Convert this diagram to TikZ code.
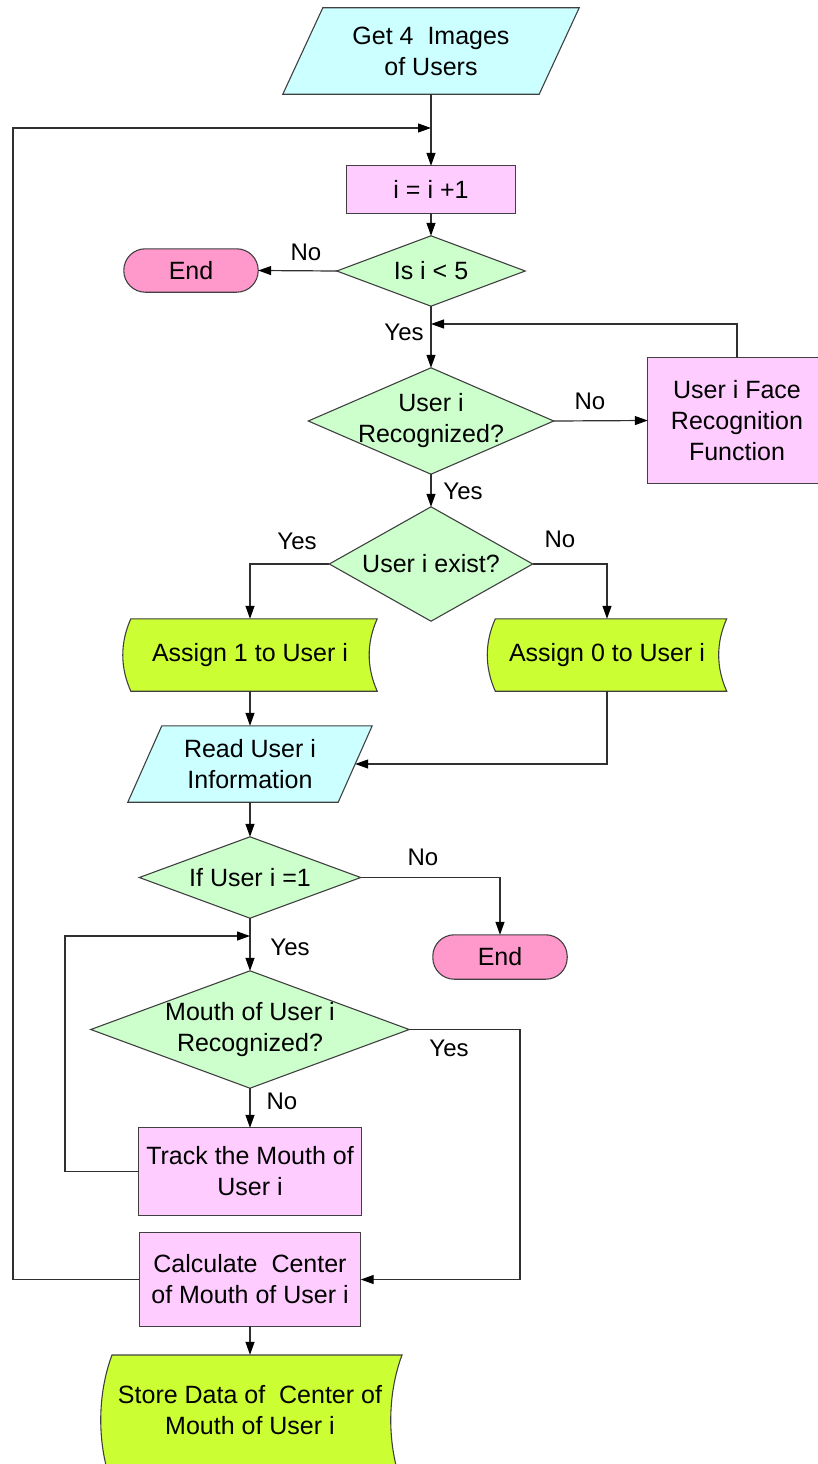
\documentclass[tikz,border=0pt]{standalone}
\usepackage{fontspec}
\setmainfont{Liberation Sans}
\usetikzlibrary{arrows.meta,backgrounds,calc}

\definecolor{cyanfill}{HTML}{CCFFFF}
\definecolor{pinkfill}{HTML}{FFCCFF}
\definecolor{greenfill}{HTML}{CCFFCC}
\definecolor{endfill}{HTML}{FF99CC}
\definecolor{limefill}{HTML}{CCFF33}
\definecolor{edge}{HTML}{404040}
\definecolor{wire}{HTML}{303030}

\tikzset{
  txt/.style={font=\fontsize{25}{31}\selectfont, align=center, inner sep=0pt, text=black},
  area/.style 2 args={txt, minimum width=#1, minimum height=#2},
  outline/.style={draw=edge, line width=1.1pt, line join=miter},
  conn/.style={draw=wire, line width=1.2pt, -{Triangle[length=13pt,width=9pt,color=black]}},
  wireonly/.style={draw=wire, line width=1.2pt},
  lbl/.style={font=\fontsize{24}{28}\selectfont, inner sep=0pt, text=black},
}

\begin{document}
\begin{tikzpicture}[x=1pt,y=-1pt]
\useasboundingbox (0,0) rectangle (817,1464);

% ---- nodes (text and anchor frames) ----
\node[area={256}{86}]  (get)   at (431,51)     {Get 4~ Images\\of Users};
\node[area={168}{47}]  (inc)   at (431,189.5)  {i = i +1};
\node[area={188}{70}]  (isi)   at (431,271)    {Is i < 5};
\node[area={134}{43}]  (end1)  at (191,270.5)  {End};
\node[area={245}{106}] (rec)   at (431,421)    {User i\\Recognized?};
\node[area={178}{125}] (face)  at (737,420.5)  {User i Face\\Recognition\\Function};
\node[area={203}{114}] (exist) at (431,564)    {User i exist?};
\node[area={254}{72}]  (as1)   at (250,655)    {Assign 1 to User i};
\node[area={239}{72}]  (as0)   at (607,655)    {Assign 0 to User i};
\node[area={210}{76}]  (read)  at (250,764)    {Read User i\\Information};
\node[area={221}{81}]  (ifu)   at (250,877.5)  {If User i =1};
\node[area={134}{44}]  (end2)  at (500,957)    {End};
\node[area={318}{117}] (mouth) at (250,1029.5) {Mouth of User i\\Recognized?};
\node[area={222}{87}]  (track) at (250,1171.5) {Track the Mouth of\\User i};
\node[area={221}{93}]  (calc)  at (250,1279.5) {Calculate~ Center\\of Mouth of User i};
\node[area={290}{110}] (store) at (250,1410)   {Store Data of~ Center of\\Mouth of User i};

% ---- shape outlines behind the text ----
\begin{scope}[on background layer]
  % input / output parallelograms
  \draw[outline, fill=cyanfill]
    ($(get.north west)+(20,0)$) -- ($(get.north east)+(20,0)$) --
    ($(get.south east)+(-20,0)$) -- ($(get.south west)+(-20,0)$) -- cycle;
  \draw[outline, fill=cyanfill]
    ($(read.north west)+(17,0)$) -- ($(read.north east)+(17,0)$) --
    ($(read.south east)+(-17,0)$) -- ($(read.south west)+(-17,0)$) -- cycle;
  % process boxes
  \foreach \n in {inc,face,track,calc}
    \draw[outline, fill=pinkfill] (\n.north west) rectangle (\n.south east);
  % decisions
  \foreach \n in {isi,rec,exist,ifu,mouth}
    \draw[outline, fill=greenfill] (\n.north) -- (\n.east) -- (\n.south) -- (\n.west) -- cycle;
  % terminators
  \foreach \n in {end1,end2}
    \draw[outline, fill=endfill, rounded corners=21.5pt] (\n.north west) rectangle (\n.south east);
  % stored-data shapes
  \foreach \n in {as1,as0}
    \draw[outline, fill=limefill]
      ($(\n.north west)+(8,0)$) -- (\n.north east)
      .. controls ($(\n.north east)+(-10.7,24)$) and ($(\n.south east)+(-10.7,-24)$) .. (\n.south east)
      -- ($(\n.south west)+(8,0)$)
      .. controls ($(\n.south west)+(-2.7,-24)$) and ($(\n.north west)+(-2.7,24)$) .. ($(\n.north west)+(8,0)$) -- cycle;
  \draw[outline, fill=limefill]
    (112,1355) -- (402,1355)
    .. controls (387,1395) and (387,1445) .. (402,1485)
    -- (112,1485)
    .. controls (97,1445) and (97,1395) .. (112,1355) -- cycle;
\end{scope}

% ---- junction points of the loops ----
\coordinate (j1) at (431,128);
\coordinate (j2) at (431,324);
\coordinate (j3) at (250,936);
\coordinate (lx) at (13,128);
\coordinate (lx2) at (65,936);
\coordinate (rx) at (520,1030);

% ---- connectors ----
\draw[conn] (get.south) -- (inc.north);
\draw[conn] (calc.west) -- (calc.west -| lx) |- (j1);
\draw[conn] (inc.south) -- (isi.north);
\draw[conn] (isi.west) -- (end1.east);
\draw[conn] (isi.south) -- (rec.north);
\draw[conn] (face.north) |- (j2);
\draw[conn] (rec.east) -- (face.west);
\draw[conn] (rec.south) -- (exist.north);
\draw[conn] (exist.west) -| (as1.north);
\draw[conn] (exist.east) -| (as0.north);
\draw[conn] (as1.south) -- (read.north);
\draw[conn] (as0.south) |- (read.east);
\draw[conn] (read.south) -- (ifu.north);
\draw[conn] (ifu.east) -| (end2.north);
\draw[conn] (ifu.south) -- (mouth.north);
\draw[conn] (track.west) -- (track.west -| lx2) |- (j3);
\draw[conn] (mouth.east) -| (rx |- calc.east) -- (calc.east);
\draw[conn] (mouth.south) -- (track.north);
\draw[conn] (calc.south) -- (store.north);

% ---- branch labels ----
\node[lbl] (l1)  at (306,252)  {No};
\node[lbl] (l2)  at (404,332)  {Yes};
\node[lbl] (l3)  at (590,401)  {No};
\node[lbl] (l4)  at (463,491)  {Yes};
\node[lbl] (l5)  at (297,541)  {Yes};
\node[lbl] (l6)  at (560,539)  {No};
\node[lbl] (l7)  at (423,857)  {No};
\node[lbl] (l8)  at (290,947)  {Yes};
\node[lbl] (l9)  at (449,1048) {Yes};
\node[lbl] (l10) at (282,1101) {No};
\end{tikzpicture}
\end{document}
